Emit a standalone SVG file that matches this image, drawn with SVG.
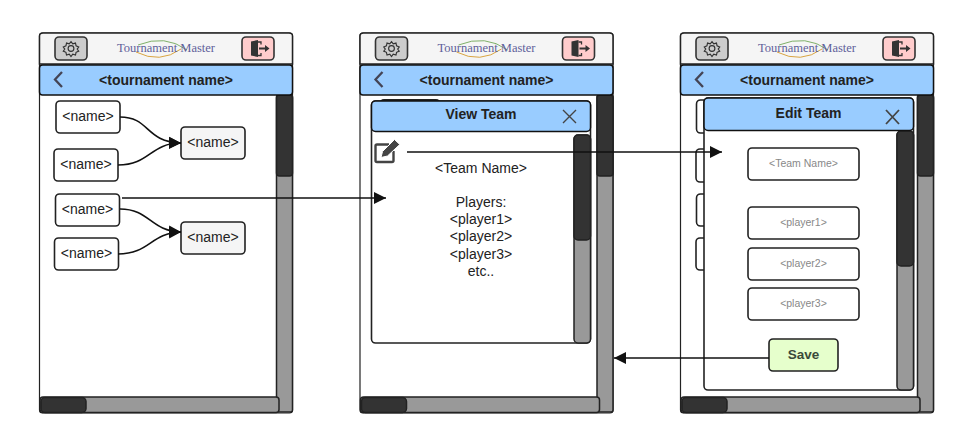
<svg xmlns="http://www.w3.org/2000/svg" xmlns:xlink="http://www.w3.org/1999/xlink" width="959" height="436" viewBox="0 0 959 436">
<style>
text{font-family:"Liberation Sans",Arial,sans-serif;text-anchor:middle;fill:#222}
.s{fill:#fff;stroke:#222;stroke-width:1.2}
.track{fill:#999;stroke:#222;stroke-width:1.5}
.thumb{fill:#333;stroke:#222;stroke-width:1.5}
.top{fill:#f5f5f5;stroke:#222;stroke-width:1.5}
.blue{fill:#99ccff;stroke:#111;stroke-width:1.5}
.gear{fill:#ccc;stroke:#333;stroke-width:1.6}
.exit{fill:#ffcccc;stroke:#333;stroke-width:1.6}
.node{fill:#fff;stroke:#222;stroke-width:1.6}
.g{fill:#f5f5f5}
.t{font-size:14px}
.b{font-size:14px;font-weight:bold}
.ph{font-size:10.500px;fill:#888}
.logo{font-family:"Liberation Serif",serif;font-size:12.500px;fill:#5f5f9a}
.c{fill:none;stroke:#111;stroke-width:1.6}
.a{fill:none;stroke:#111;stroke-width:1.6;marker-end:url(#ah)}
.x{fill:none;stroke:#444;stroke-width:1.4}
</style>
<defs>
<marker id="ah" markerUnits="userSpaceOnUse" markerWidth="13" markerHeight="13" refX="12" refY="6.500" orient="auto"><path d="M0 0.500L12 6.500L0 12.500Z" fill="#111"/></marker>
<g id="chrome">
<rect class="s" x="39.500" y="33" width="253" height="380" rx="3"/>
<rect class="track" x="276.500" y="95" width="16" height="317" rx="2"/>
<rect class="thumb" x="276.500" y="95" width="16" height="81" rx="3"/>
<rect class="track" x="40" y="397" width="239" height="15.500" rx="3"/>
<rect class="thumb" x="41" y="397.500" width="45" height="15" rx="4"/>
<path class="top" d="M43 33H289Q292.500 33 292.500 36V64H39.500V36Q39.500 33 43 33Z"/>
<rect class="blue" x="39.500" y="65" width="253" height="30" rx="3"/>
<rect class="gear" x="55" y="37" width="32" height="23" rx="4"/>
<g fill="none" stroke="#333" stroke-width="1" transform="translate(71 48.500) scale(1.150) translate(-71 -48.500)"><circle cx="71" cy="48.500" r="2.500"/><path d="M71 42.500l1.500 2 2.400-.7.500 2.400 2.300 1-1.300 1.800 1.300 1.800-2.300 1-.5 2.400-2.400-.7-1.500 2-1.500-2-2.400.7-.5-2.400-2.300-1 1.300-1.800-1.300-1.800 2.300-1 .5-2.400 2.400.7Z"/></g>
<path d="M136 52Q160 64 181 49" fill="none" stroke="#d9a441" stroke-width="1"/>
<path d="M138 45Q165 34 187 50" fill="none" stroke="#7fb069" stroke-width="1"/>
<text class="logo" x="166" y="52">Tournament Master</text>
<rect class="exit" x="242" y="37" width="32" height="23" rx="4"/>
<path d="M251 41.500L258 40V57L251 55.500Z" fill="#333"/><path d="M258 42H261V44.500M261 53V55.500H258" fill="none" stroke="#333" stroke-width="1.300"/><path d="M259 47.500H265V45L269.500 48.500L265 52V49.500H259Z" fill="#333"/>
<path d="M62 72L55 79.500L62 87" fill="none" stroke="#445" stroke-width="2.300"/>
<text class="b" x="166" y="84.500">&lt;tournament name&gt;</text>
</g>
</defs>

<g id="screen-main"><use xlink:href="#chrome"/></g>
<g id="n1"><rect class="node" x="56" y="101" width="64" height="32" rx="4"/><text class="t" x="88" y="121">&lt;name&gt;</text></g>
<g id="n2"><rect class="node" x="54" y="149" width="64" height="32" rx="4"/><text class="t" x="86" y="169">&lt;name&gt;</text></g>
<g id="n3"><rect class="node" x="55.500" y="194" width="64" height="32" rx="4"/><text class="t" x="87.500" y="214">&lt;name&gt;</text></g>
<g id="n4"><rect class="node" x="54.500" y="238" width="64" height="32" rx="4"/><text class="t" x="86.500" y="258">&lt;name&gt;</text></g>
<g id="n5"><rect class="node g" x="181" y="127" width="64" height="32" rx="4"/><text class="t" x="213" y="147">&lt;name&gt;</text></g>
<g id="n6"><rect class="node g" x="181" y="222" width="64" height="32" rx="4"/><text class="t" x="213" y="242">&lt;name&gt;</text></g>

<g id="screen-view"><use xlink:href="#chrome" x="320.500"/>
<rect class="node" x="380" y="100" width="60" height="10" rx="4" style="stroke-width:2"/>
<rect class="node" x="371.500" y="101" width="219" height="242" rx="4"/>
<rect class="track" x="574" y="135" width="16.500" height="208" rx="4"/>
<rect class="thumb" x="574" y="135" width="16.500" height="105" rx="4"/>
<rect class="blue" x="371.500" y="101" width="219" height="30.500" rx="4"/>
<text class="b" x="481" y="119">View Team</text>
<path class="x" d="M563 110L576 123M576 110L563 123"/>
<g id="edit-icon"><path d="M389 144.500H377Q375.500 144.500 375.500 146V160.500Q375.500 162 377 162H392Q393.500 162 393.500 160.500V151" fill="none" stroke="#444" stroke-width="2.400"/><path d="M381 157.500L382.500 151.500L394.500 139.500L399.800 144.500L387.500 156Z" fill="#444" stroke="#fff" stroke-width="1"/></g>
<text class="t" x="481" y="173">&lt;Team Name&gt;</text>
<text class="t" x="481" y="207">Players:</text>
<text class="t" x="481" y="224">&lt;player1&gt;</text>
<text class="t" x="481" y="241">&lt;player2&gt;</text>
<text class="t" x="481" y="259">&lt;player3&gt;</text>
<text class="t" x="481" y="276">etc..</text>
</g>

<g id="screen-edit"><use xlink:href="#chrome" x="641"/>
<rect class="node" x="696.500" y="100" width="30" height="33" rx="4"/>
<rect class="node" x="696" y="149" width="30" height="33" rx="4"/>
<rect class="node" x="696.500" y="194" width="30" height="32" rx="4"/>
<rect class="node" x="696" y="238" width="30" height="32" rx="4"/>
<rect class="node" x="704" y="98" width="209.500" height="292" rx="4"/>
<rect class="track" x="897" y="131" width="16.500" height="259" rx="4"/>
<rect class="thumb" x="897" y="131" width="16.500" height="135" rx="4"/>
<rect class="blue" x="704" y="98" width="209.500" height="32.500" rx="4"/>
<text class="b" x="808.500" y="118">Edit Team</text>
<path d="M886 110L899 124M899 110L886 124" fill="none" stroke="#444" stroke-width="1.800"/>
<rect class="node" x="748" y="148" width="111" height="32" rx="4"/><text class="ph" x="803.500" y="167">&lt;Team Name&gt;</text>
<rect class="node" x="748" y="207" width="111" height="32" rx="4"/><text class="ph" x="803.500" y="226">&lt;player1&gt;</text>
<rect class="node" x="748" y="248" width="111" height="32" rx="4"/><text class="ph" x="803.500" y="267">&lt;player2&gt;</text>
<rect class="node" x="748" y="288" width="111" height="32" rx="4"/><text class="ph" x="803.500" y="307">&lt;player3&gt;</text>
<g id="save"><rect x="769" y="339" width="69" height="32" rx="4" fill="#e6ffcc" stroke="#222" stroke-width="1.600"/><text x="803.500" y="359" style="font-weight:bold;font-size:13.500px;fill:#3a4a3a">Save</text></g>
</g>

<g id="connectors">
<path class="a" d="M120 117C150 117 145 142 181 143"/>
<path class="a" d="M118 165C150 165 150 143 181 143"/>
<path class="a" d="M120 209C150 209 150 231 181 232"/>
<path class="a" d="M118 254C150 254 150 233 181 232"/>
<path class="a" d="M122 198H386"/>
<path class="a" d="M407 152H722"/>
<path class="a" d="M769 358H614"/>
</g>
</svg>
